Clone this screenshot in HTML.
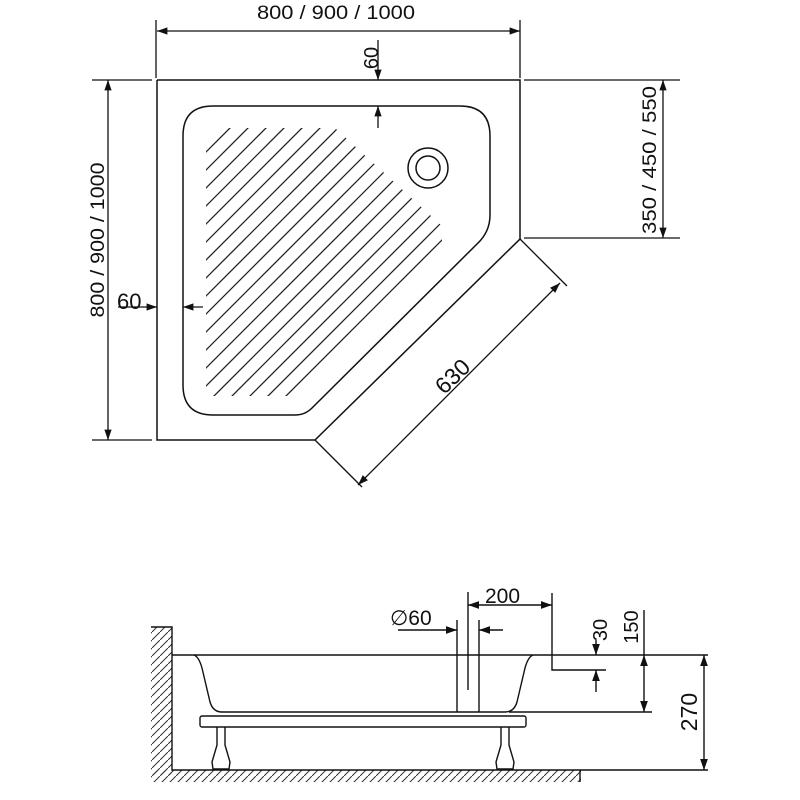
<!DOCTYPE html>
<html><head><style>
html,body{margin:0;padding:0;background:#fff;}
svg{display:block;}
text{font-family:"Liberation Sans",sans-serif;fill:#111;}
</style></head><body>
<svg width="800" height="800" viewBox="0 0 800 800" xmlns="http://www.w3.org/2000/svg">
<defs>
<marker id="a" viewBox="0 0 10 10" refX="10" refY="5" markerWidth="8" markerHeight="8" orient="auto-start-reverse"><path d="M0,1.5 L10,5 L0,8.5 z" fill="#111"/></marker>
<clipPath id="c"><polygon points="206,148 224,128 335,128 442,226 442,242 300,396 206,396"/></clipPath>
<pattern id="h" width="8" height="8" patternUnits="userSpaceOnUse"><path d="M-1,9 L9,-1" stroke="#333" stroke-width="1"/></pattern>
</defs>
<g stroke="#111" stroke-width="1.5" fill="none">
<polyline points="157,80 520,80 520,239 315,440 157,440 157,80"/>
<path d="M213,106 L460,106 Q490,106 490,136 L490,215 Q490,232 477,244 L312,408 Q305,415 295,415 L213,415 Q183,415 183,385 L183,136 Q183,106 213,106 Z"/>
<circle cx="428" cy="168" r="20"/>
<circle cx="428" cy="168" r="12"/>
</g>
<g clip-path="url(#c)" stroke="#222" stroke-width="1.3">
<line x1="100" y1="240" x2="300" y2="40"/>
<line x1="100" y1="258" x2="320" y2="38"/>
<line x1="100" y1="276" x2="340" y2="36"/>
<line x1="100" y1="294" x2="360" y2="34"/>
<line x1="100" y1="312" x2="380" y2="32"/>
<line x1="100" y1="330" x2="400" y2="30"/>
<line x1="100" y1="348" x2="420" y2="28"/>
<line x1="100" y1="366" x2="440" y2="26"/>
<line x1="100" y1="384" x2="460" y2="24"/>
<line x1="100" y1="402" x2="480" y2="22"/>
<line x1="100" y1="420" x2="500" y2="20"/>
<line x1="100" y1="438" x2="520" y2="18"/>
<line x1="100" y1="456" x2="540" y2="16"/>
<line x1="100" y1="474" x2="560" y2="14"/>
<line x1="100" y1="492" x2="580" y2="12"/>
<line x1="100" y1="510" x2="600" y2="10"/>
<line x1="100" y1="528" x2="620" y2="8"/>
<line x1="100" y1="546" x2="640" y2="6"/>
<line x1="100" y1="564" x2="660" y2="4"/>
<line x1="100" y1="582" x2="680" y2="2"/>
<line x1="100" y1="600" x2="700" y2="0"/>
<line x1="100" y1="618" x2="720" y2="-2"/>
<line x1="100" y1="636" x2="740" y2="-4"/>
</g>
<g stroke="#111" stroke-width="1.3" fill="none">
<line x1="156" y1="20" x2="156" y2="78"/>
<line x1="520" y1="20" x2="520" y2="78"/>
<line x1="157" y1="31" x2="520" y2="31" marker-start="url(#a)" marker-end="url(#a)"/>
<line x1="92" y1="80" x2="152" y2="80"/>
<line x1="92" y1="440" x2="152" y2="440"/>
<line x1="108" y1="80" x2="108" y2="440" marker-start="url(#a)" marker-end="url(#a)"/>
<line x1="524" y1="80" x2="680" y2="80"/>
<line x1="524" y1="238" x2="680" y2="238"/>
<line x1="663" y1="80" x2="663" y2="238" marker-start="url(#a)" marker-end="url(#a)"/>
<line x1="378" y1="40" x2="378" y2="80" marker-end="url(#a)"/>
<line x1="378" y1="128" x2="378" y2="106" marker-end="url(#a)"/>
<line x1="118" y1="307" x2="157" y2="307" marker-end="url(#a)"/>
<line x1="203" y1="307" x2="183" y2="307" marker-end="url(#a)"/>
<line x1="520" y1="239" x2="567" y2="286"/>
<line x1="315" y1="440" x2="362" y2="487"/>
<line x1="560" y1="283" x2="358" y2="485" marker-start="url(#a)" marker-end="url(#a)"/>
</g>
<text x="336" y="19" font-size="19" text-anchor="middle" textLength="158" lengthAdjust="spacingAndGlyphs">800 / 900 / 1000</text>
<text transform="translate(104,240) rotate(-90)" font-size="19" text-anchor="middle" textLength="155" lengthAdjust="spacingAndGlyphs">800 / 900 / 1000</text>
<text transform="translate(656,160) rotate(-90)" font-size="19" text-anchor="middle" textLength="148" lengthAdjust="spacingAndGlyphs">350 / 450 / 550</text>
<text transform="translate(378,58) rotate(-90)" font-size="20" text-anchor="middle">60</text>
<text x="117" y="309" font-size="22">60</text>
<text transform="translate(458,382) rotate(-44)" font-size="23" text-anchor="middle">630</text>

<rect x="151" y="627" width="21" height="148" fill="url(#h)" stroke="none"/>
<rect x="151" y="770" width="430" height="12" fill="url(#h)" stroke="none"/>
<g stroke="#111" stroke-width="1.4" fill="none">
<polyline points="151,627 172,627 172,770 580,770"/>
<line x1="580" y1="770" x2="580" y2="782"/>
<line x1="580" y1="770" x2="708" y2="770"/>
<line x1="172" y1="655" x2="708" y2="655"/>
<path d="M194,655 Q199,657 202,668 L210,702 Q213,712 222,712 L505,712 Q514,712 517,702 L525,668 Q528,657 533,655"/>
<rect x="200" y="716" width="326" height="11" rx="2"/>
<path d="M217,727 L217,745 L212,762 L213,769 L229,769 L230,762 L225,745 L225,727"/>
<path d="M501,727 L501,745 L496,762 L497,769 L513,769 L514,762 L509,745 L509,727"/>
<line x1="457" y1="620" x2="457" y2="712"/>
<line x1="479" y1="620" x2="479" y2="712"/>
<line x1="468" y1="592" x2="468" y2="690"/>
<polyline points="552,593 552,670 606,670"/>
<line x1="509" y1="712" x2="652" y2="712"/>
<line x1="468" y1="605" x2="552" y2="605" marker-start="url(#a)" marker-end="url(#a)"/>
<line x1="398" y1="630" x2="457" y2="630" marker-end="url(#a)"/>
<line x1="503" y1="630" x2="479" y2="630" marker-end="url(#a)"/>
<line x1="596" y1="640" x2="596" y2="655" marker-end="url(#a)"/>
<line x1="596" y1="692" x2="596" y2="670" marker-end="url(#a)"/>
<line x1="644" y1="655" x2="644" y2="712" marker-start="url(#a)" marker-end="url(#a)"/>
<line x1="704" y1="655" x2="704" y2="770" marker-start="url(#a)" marker-end="url(#a)"/>
<line x1="644" y1="610" x2="644" y2="655"/>
</g>
<text x="390" y="625" font-size="21">∅60</text>
<text x="485" y="603" font-size="21">200</text>
<text transform="translate(607,630) rotate(-90)" font-size="20" text-anchor="middle">30</text>
<text transform="translate(638,627) rotate(-90)" font-size="20" text-anchor="middle">150</text>
<text transform="translate(697,712) rotate(-90)" font-size="23" text-anchor="middle">270</text>
</svg>
</body></html>
